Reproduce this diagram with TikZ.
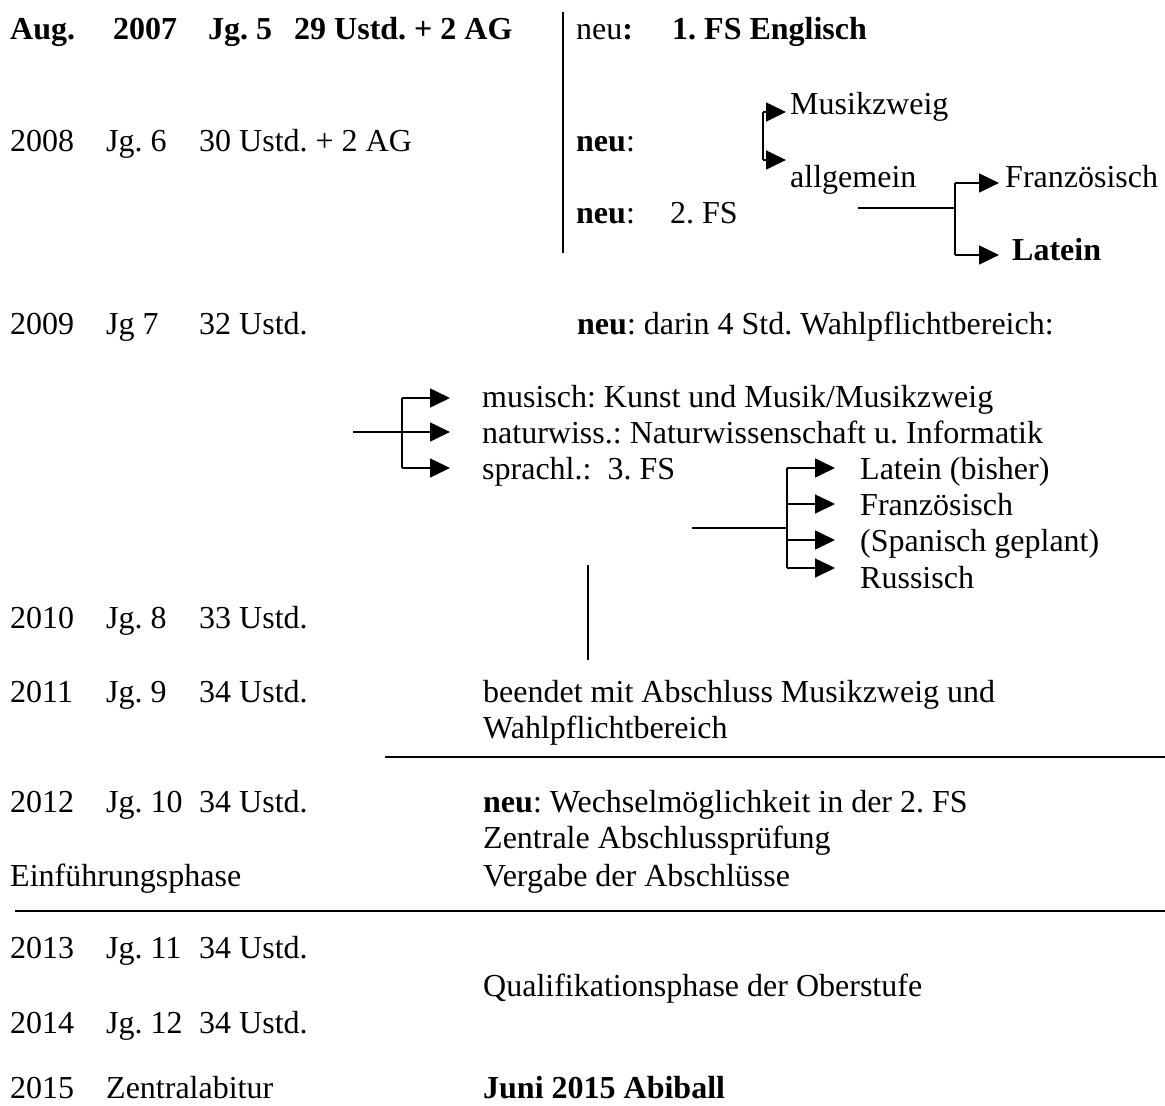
\documentclass[tikz,border=0pt]{standalone}
\usepackage{fontspec}
\setmainfont{Liberation Serif}
\usetikzlibrary{arrows.meta}
\begin{document}
\frenchspacing
\begin{tikzpicture}[x=1pt,y=-1pt,
  txt/.style={anchor=base west,inner sep=0pt,font=\fontsize{32}{37}\selectfont},
  ln/.style={line width=1.6pt},
  arr/.style={line width=1.6pt,-{Triangle[length=20pt,width=19pt]}}]
\useasboundingbox[fill=white] (0,0) rectangle (1165,1106);
% ---- left column
\node[txt] (aug) at (10,39) {\textbf{Aug.}};
\node[txt] (y07) at (113,39) {\textbf{2007}};
\node[txt] (j5) at (208,39) {\textbf{Jg. 5}};
\node[txt] (u5) at (294,39) {\textbf{29 Ustd. + 2 AG}};
\node[txt] (y08) at (10,151) {2008};
\node[txt] (j6) at (106,151) {Jg. 6};
\node[txt] (u6) at (199,151) {30 Ustd. + 2 AG};
\node[txt] (y09) at (10,334) {2009};
\node[txt] (j7) at (106,334) {Jg 7};
\node[txt] (u7) at (199,334) {32 Ustd.};
\node[txt] (y10) at (10,628) {2010};
\node[txt] (j8) at (106,628) {Jg. 8};
\node[txt] (u8) at (199,628) {33 Ustd.};
\node[txt] (y11) at (10,702) {2011};
\node[txt] (j9) at (106,702) {Jg. 9};
\node[txt] (u9) at (199,702) {34 Ustd.};
\node[txt] (y12) at (10,812) {2012};
\node[txt] (j10) at (106,812) {Jg. 10};
\node[txt] (u10) at (199,812) {34 Ustd.};
\node[txt] (einf) at (10,886) {Einführungsphase};
\node[txt] (y13) at (10,958) {2013};
\node[txt] (j11) at (106,958) {Jg. 11};
\node[txt] (u11) at (199,958) {34 Ustd.};
\node[txt] (y14) at (10,1033) {2014};
\node[txt] (j12) at (106,1033) {Jg. 12};
\node[txt] (u12) at (199,1033) {34 Ustd.};
\node[txt] (y15) at (10,1098) {2015};
\node[txt] (zab) at (106,1098) {Zentralabitur};
% ---- upper right block
\coordinate (vt) at (563,12);
\coordinate (vb) at (563,253);
\draw[ln] (vt) -- (vb);
\node[txt] (neu1) at (576,39) {neu\textbf{:}};
\node[txt] (fs1) at (672,39) {\textbf{1. FS Englisch}};
\node[txt] (neu2) at (576,151) {\textbf{neu}:};
\node[txt] (neu3) at (576,223) {\textbf{neu}:};
\node[txt] (fs2) at (670,223) {2. FS};
\node[txt] (mz) at (790,114) {Musikzweig};
\node[txt] (allg) at (790,187) {allgemein};
\node[txt] (franz) at (1005,187) {Französisch};
\node[txt] (lat) at (1012,260) {\textbf{Latein}};
\coordinate (ma) at (763,112);
\coordinate (mb) at (763,160);
\coordinate (mat) at (786,112);
\coordinate (mbt) at (786,160);
\draw[ln] (ma) -- (mb);
\draw[arr] (ma) -- (mat);
\draw[arr] (mb) -- (mbt);
\coordinate (fs0) at (858,208);
\coordinate (fsj) at (955,208);
\coordinate (fsa) at (955,183);
\coordinate (fsb) at (955,255);
\coordinate (fsat) at (999,183);
\coordinate (fsbt) at (999,255);
\draw[ln] (fs0) -- (fsj);
\draw[ln] (fsa) -- (fsb);
\draw[arr] (fsa) -- (fsat);
\draw[arr] (fsb) -- (fsbt);
% ---- 2009 block
\node[txt] (neu4) at (577,334) {\textbf{neu}: darin 4 Std. Wahlpflichtbereich:};
\node[txt] (mus) at (482,407) {musisch: Kunst und Musik/Musikzweig};
\node[txt] (nat) at (482,443) {naturwiss.: Naturwissenschaft u. Informatik};
\node[txt] (spr) at (482,479) {sprachl.:\ \ 3. FS};
\coordinate (w0) at (353,432);
\coordinate (wj) at (402,432);
\coordinate (wa) at (402,398);
\coordinate (wc) at (402,468);
\coordinate (wat) at (450,398);
\coordinate (wbt) at (450,432);
\coordinate (wct) at (450,468);
\draw[ln] (w0) -- (wj);
\draw[ln] (wa) -- (wc);
\draw[arr] (wa) -- (wat);
\draw[arr] (wj) -- (wbt);
\draw[arr] (wc) -- (wct);
\node[txt] (l3) at (860,479) {Latein (bisher)};
\node[txt] (f3) at (860,515) {Französisch};
\node[txt] (s3) at (860,551) {(Spanisch geplant)};
\node[txt] (r3) at (860,588) {Russisch};
\coordinate (s0) at (692,528);
\coordinate (sj) at (787,528);
\coordinate (sa) at (787,468);
\coordinate (sb) at (787,504);
\coordinate (sc) at (787,540);
\coordinate (sd) at (787,568);
\coordinate (sat) at (835,468);
\coordinate (sbt) at (835,504);
\coordinate (sct) at (835,540);
\coordinate (sdt) at (835,568);
\draw[ln] (s0) -- (sj);
\draw[ln] (sa) -- (sd);
\draw[arr] (sa) -- (sat);
\draw[arr] (sb) -- (sbt);
\draw[arr] (sc) -- (sct);
\draw[arr] (sd) -- (sdt);
\coordinate (vv1) at (588,565);
\coordinate (vv2) at (588,660);
\draw[ln] (vv1) -- (vv2);
% ---- lower middle
\node[txt] (bee) at (483,702) {beendet mit Abschluss Musikzweig und};
\node[txt] (wpb) at (483,738) {Wahlpflichtbereich};
\coordinate (h1a) at (385,757);
\coordinate (h1b) at (1165,757);
\draw[line width=2pt] (h1a) -- (h1b);
\node[txt] (neu5) at (483,812) {\textbf{neu}: Wechselmöglichkeit in der 2. FS};
\node[txt] (zap) at (483,848) {Zentrale Abschlussprüfung};
\node[txt] (vga) at (483,886) {Vergabe der Abschlüsse};
\coordinate (h2a) at (15,911);
\coordinate (h2b) at (1165,911);
\draw[line width=2pt] (h2a) -- (h2b);
\node[txt] (qph) at (483,996) {Qualifikationsphase der Oberstufe};
\node[txt] (abi) at (483,1098) {\textbf{Juni 2015 Abiball}};
\end{tikzpicture}
\end{document}
